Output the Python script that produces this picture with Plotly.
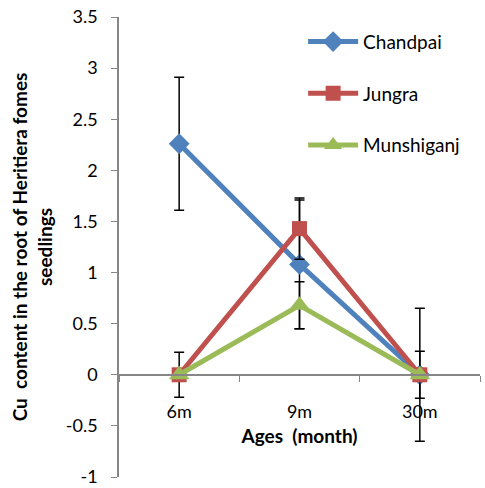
import plotly.graph_objects as go

ages = ["6m", "9m", "30m"]
chandpai = [2.26, 1.08, 0.0]
chandpai_err = [0.65, 0.63, 0.65]
jungra = [0.0, 1.43, 0.0]
jungra_err = [0.22, 0.30, 0.23]
munshiganj = [0.0, 0.68, 0.0]
munshiganj_err = [0.0, 0.23, 0.0]
y_ticks = [-1, -0.5, 0, 0.5, 1, 1.5, 2, 2.5, 3, 3.5]
y_ticklabels = ["-1", "-0.5", "0", "0.5", "1", "1.5", "2", "2.5", "3", "3.5"]

FONT = "Lato"

series = [
    ("Chandpai", chandpai, chandpai_err, "#4F81BD", "diamond", 16),
    ("Jungra", jungra, jungra_err, "#C0504D", "square", 15),
    ("Munshiganj", munshiganj, munshiganj_err, "#9BBB59", "triangle-up", 18),
]

fig = go.Figure()
for i, (name, vals, err, col, sym, sz) in enumerate(series):
    fig.add_trace(go.Scatter(
        x=ages, y=vals, name=name, mode="lines+markers",
        line=dict(color=col, width=5),
        marker=dict(color=col, symbol=sym, size=sz),
        error_y=dict(type="data", array=err, visible=True, color="black",
                     thickness=1.5, width=5),
        legendgroup=name,
    ))

ymin, ymax = -1, 3.5
fig.update_layout(
    width=485, height=488,
    margin=dict(l=119, r=5, t=17, b=11, autoexpand=False),
    paper_bgcolor="white", plot_bgcolor="white",
    font=dict(family=FONT, size=18, color="black"),
    showlegend=True,
    legend=dict(x=0.51, y=0.9875, xanchor="left", yanchor="top",
                tracegroupgap=24, itemwidth=50, font=dict(size=19, family=FONT),
                bgcolor="rgba(0,0,0,0)"),
    xaxis=dict(
        type="category", range=[-0.5, 2.5], automargin=False,
        anchor="free", position=(0 - ymin) / (ymax - ymin),
        showline=True, linecolor="#868686", linewidth=1.5,
        ticks="outside", tickson="boundaries", ticklen=6, tickcolor="#868686",
        showgrid=False, zeroline=False,
        ticklabelstandoff=21,
        tickfont=dict(size=18, family=FONT),
        title=dict(text="<b>Ages  (month)</b>", font=dict(size=19, family=FONT), standoff=8),
    ),
    yaxis=dict(
        range=[ymin, ymax], tickvals=y_ticks, ticktext=y_ticklabels, automargin=False,
        showline=True, linecolor="#868686", linewidth=1.5,
        ticks="outside", ticklen=6, tickcolor="#868686",
        showgrid=False, zeroline=False,
        ticklabelstandoff=10, ticklabeloverflow="allow",
        tickfont=dict(size=18, family=FONT),
        title=dict(text="<b>Cu  content in the root of Heritiera fomes<br>seedlings</b>",
                   font=dict(size=19, family=FONT), standoff=8),
    ),
)

fig.write_html("out.html", config={"displayModeBar": False},
               post_script="document.body.style.margin='0';document.body.style.overflow='hidden';")
